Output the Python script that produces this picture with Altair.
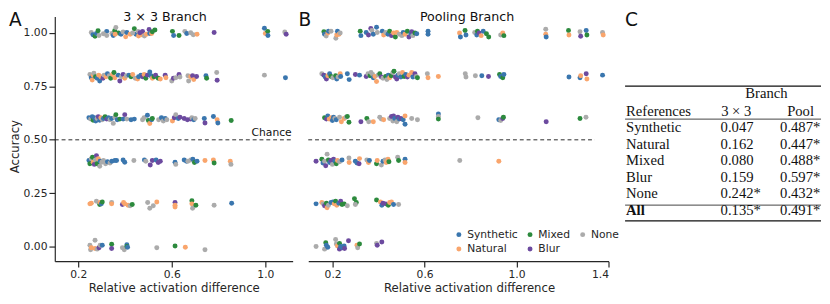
import altair as alt
import pandas as pd

# ---------------- data ----------------
CATS = {"S": "Synthetic", "N": "Natural", "M": "Mixed", "B": "Blur", "O": "None"}
LEGEND_ORDER = ["Synthetic", "Natural", "Mixed", "Blur", "None"]
COLORS = ["#3a76ae", "#f9a56c", "#2c8a3d", "#6c4a9f", "#ababab"]

# Panel A : 3x3 branch
A10_x = [0.256,0.263,0.272,0.278,0.285,0.289,0.322,0.322,0.344,0.350,0.356,0.361,0.372,0.383,0.392,0.403,0.408,0.422,0.440,0.447,0.456,0.458,0.472,0.475,0.483,0.492,0.503,0.506,0.514,0.528,0.603,0.608,0.631,0.656,0.664,0.681,0.692,0.708,0.781,0.996,1.000,1.010,1.011,1.083,1.089,0.308,0.358,0.433,0.464,0.517]
A10_y = [1.003,0.992,0.985,0.998,1.011,0.989,1.008,0.989,0.998,0.989,1.011,1.026,1.000,0.995,1.005,0.983,1.003,0.995,1.020,0.995,1.008,0.986,0.992,1.008,0.986,0.995,1.017,0.998,0.998,1.014,1.008,0.989,0.989,1.008,0.998,1.002,0.992,0.995,1.003,1.023,0.998,1.008,0.989,1.005,0.995,0.997,0.994,1.000,1.002,1.006]
A10_c = "OSMSMOSOOSMOMSONSNMSONNBONBSNMMSMOSOONBSNMSOBONOBM"

A08_x = [0.250,0.256,0.260,0.264,0.267,0.274,0.281,0.288,0.292,0.297,0.306,0.311,0.319,0.325,0.333,0.339,0.347,0.353,0.357,0.371,0.378,0.385,0.392,0.399,0.406,0.417,0.426,0.433,0.444,0.454,0.458,0.468,0.475,0.482,0.489,0.496,0.506,0.511,0.517,0.524,0.531,0.542,0.551,0.572,0.575,0.600,0.607,0.617,0.631,0.635,0.669,0.672,0.681,0.689,0.694,0.706,0.746,0.749,0.792,0.794,0.996,1.086]
A08_y = [0.806,0.791,0.780,0.803,0.812,0.795,0.788,0.803,0.776,0.795,0.788,0.803,0.795,0.809,0.800,0.788,0.806,0.815,0.791,0.803,0.776,0.795,0.806,0.788,0.800,0.803,0.795,0.806,0.788,0.785,0.795,0.803,0.795,0.806,0.788,0.803,0.818,0.800,0.788,0.795,0.803,0.788,0.785,0.803,0.791,0.776,0.788,0.791,0.806,0.794,0.800,0.776,0.795,0.800,0.782,0.797,0.800,0.788,0.815,0.779,0.803,0.791]
A08_c = "OSNNOMSNSNBONSOMNMNSBOBNOSMNONSSBNMBSSNMBMNBNOBOBOOONBNBSMOBOS"

A06_x = [0.246,0.253,0.260,0.264,0.269,0.275,0.281,0.286,0.292,0.297,0.303,0.308,0.315,0.322,0.329,0.336,0.343,0.350,0.357,0.361,0.367,0.378,0.392,0.399,0.408,0.426,0.440,0.475,0.482,0.496,0.500,0.506,0.514,0.517,0.544,0.556,0.564,0.572,0.579,0.603,0.611,0.617,0.628,0.635,0.653,0.667,0.681,0.686,0.694,0.700,0.739,0.742,0.778,0.794,0.797,0.854]
A06_y = [0.603,0.597,0.608,0.592,0.603,0.588,0.600,0.608,0.592,0.603,0.594,0.600,0.608,0.597,0.603,0.594,0.600,0.577,0.606,0.618,0.594,0.597,0.597,0.618,0.597,0.594,0.597,0.594,0.603,0.615,0.591,0.576,0.594,0.600,0.594,0.603,0.588,0.600,0.594,0.588,0.603,0.618,0.600,0.606,0.600,0.594,0.597,0.603,0.594,0.600,0.600,0.579,0.609,0.594,0.579,0.591]
A06_c = "SOSMSSOBSNOSMBSOSOOMSMSBOSSOOSMNSMOSOSONBOSBBBBOSOSBSNSM"

A04_x = [0.246,0.250,0.256,0.261,0.264,0.269,0.274,0.278,0.281,0.286,0.292,0.294,0.301,0.308,0.317,0.325,0.336,0.344,0.357,0.364,0.392,0.399,0.438,0.483,0.489,0.508,0.517,0.533,0.542,0.551,0.614,0.617,0.653,0.663,0.669,0.681,0.690,0.697,0.708,0.742,0.778,0.781,0.850,0.853]
A04_y = [0.403,0.388,0.411,0.418,0.395,0.385,0.406,0.426,0.388,0.411,0.376,0.400,0.395,0.403,0.388,0.397,0.391,0.400,0.403,0.403,0.406,0.395,0.403,0.406,0.400,0.382,0.403,0.406,0.394,0.400,0.395,0.385,0.406,0.400,0.400,0.406,0.409,0.394,0.400,0.403,0.406,0.391,0.400,0.385]
A04_c = "SMOMNBOBMNOSOOOSOSSSSSOSOBBSBBSOSSOOSMSNNMNO"

A02_x = [0.250,0.256,0.278,0.292,0.294,0.299,0.303,0.343,0.343,0.389,0.394,0.399,0.413,0.422,0.431,0.497,0.506,0.521,0.536,0.614,0.614,0.614,0.686,0.686,0.689,0.703,0.781,0.856]
A02_y = [0.200,0.203,0.212,0.197,0.206,0.200,0.209,0.206,0.200,0.197,0.206,0.200,0.194,0.191,0.197,0.206,0.179,0.191,0.209,0.206,0.194,0.185,0.215,0.200,0.179,0.194,0.194,0.203]
A02_c = "NNOMNSMONBNNNOMOOONBNNMNOMOS"

A00_x = [0.250,0.253,0.256,0.272,0.272,0.281,0.289,0.294,0.303,0.343,0.343,0.389,0.397,0.408,0.408,0.411,0.536,0.614,0.658,0.742]
A00_y = [0.006,-0.015,-0.006,0.030,-0.009,-0.012,-0.006,0.006,0.006,0.011,-0.009,-0.006,-0.015,0.009,0.000,-0.003,-0.006,0.003,-0.003,-0.015]
A00_c = "OONONOBOSMBOOSMSOMNO"

# Panel B : pooling branch
B10_x = [0.162,0.165,0.172,0.179,0.182,0.193,0.214,0.218,0.221,0.228,0.233,0.320,0.323,0.346,0.356,0.366,0.371,0.377,0.391,0.394,0.416,0.422,0.431,0.441,0.448,0.456,0.465,0.473,0.479,0.490,0.501,0.507,0.515,0.525,0.532,0.540,0.544,0.549,0.558,0.566,0.615,0.615,0.752,0.756,0.776,0.780,0.818,0.827,0.830,0.837,0.846,0.855,0.869,0.879,0.931,0.940,0.945,1.127,1.127,1.129,1.226,1.228,1.276,1.279,1.303,1.306,1.374,1.377]
B10_y = [1.006,0.994,0.986,1.000,1.009,1.009,0.976,0.991,1.009,0.994,1.000,1.009,0.988,1.003,0.991,1.021,1.012,0.994,1.027,1.003,1.009,0.991,1.003,0.994,1.009,0.988,1.000,0.982,1.003,0.994,0.988,1.003,0.994,1.009,0.982,0.997,1.006,0.988,1.000,0.997,1.009,0.994,1.000,0.982,1.012,0.991,1.003,0.991,1.009,1.000,0.988,1.009,0.997,0.982,0.991,1.000,0.988,1.018,0.994,0.982,1.012,0.991,1.006,0.985,1.012,0.991,1.003,0.991]
B10_c = "MSONSOONSNOMSSBBOSSOSNOSMBNMNOOSNMBSBOMSSSNSMSOSMBNSMMONMONSMNOBSMON"

B08_x = [0.153,0.162,0.168,0.173,0.179,0.187,0.193,0.201,0.213,0.218,0.224,0.233,0.235,0.264,0.272,0.299,0.317,0.346,0.354,0.363,0.367,0.374,0.377,0.384,0.391,0.398,0.405,0.412,0.419,0.431,0.436,0.442,0.448,0.455,0.462,0.467,0.473,0.479,0.484,0.490,0.497,0.504,0.511,0.518,0.525,0.532,0.544,0.549,0.558,0.564,0.569,0.612,0.615,0.660,0.777,0.780,0.821,0.849,0.878,0.926,0.931,0.940,0.945,1.228,1.276,1.279,1.303,1.306,1.374]
B08_y = [0.809,0.803,0.794,0.785,0.800,0.809,0.797,0.791,0.800,0.785,0.794,0.809,0.797,0.809,0.782,0.806,0.803,0.797,0.809,0.800,0.815,0.806,0.791,0.797,0.773,0.803,0.809,0.794,0.788,0.797,0.782,0.803,0.791,0.800,0.815,0.821,0.794,0.785,0.803,0.809,0.794,0.815,0.797,0.806,0.794,0.803,0.815,0.794,0.809,0.797,0.791,0.809,0.791,0.797,0.809,0.794,0.800,0.800,0.797,0.806,0.797,0.791,0.806,0.794,0.791,0.800,0.809,0.785,0.803]
B08_c = "OBSBNSMOMSONSSSBSBOMOOSNNOMBOMOSNMOMBBSOSNMSBNNSBOMONNOOOSBMSMSSSNBNS"

B06_x = [0.165,0.173,0.179,0.185,0.193,0.199,0.204,0.210,0.216,0.230,0.238,0.250,0.258,0.264,0.271,0.323,0.349,0.357,0.377,0.405,0.412,0.422,0.448,0.456,0.462,0.465,0.470,0.479,0.484,0.490,0.497,0.507,0.515,0.515,0.544,0.569,0.660,0.660,0.660,0.832,0.923,0.931,0.940,0.943,1.129,1.276,1.302]
B06_y = [0.603,0.597,0.612,0.597,0.603,0.591,0.606,0.600,0.594,0.606,0.585,0.600,0.606,0.609,0.582,0.585,0.600,0.585,0.585,0.606,0.597,0.594,0.600,0.609,0.588,0.612,0.600,0.585,0.606,0.597,0.600,0.594,0.612,0.573,0.600,0.594,0.621,0.609,0.597,0.603,0.594,0.591,0.600,0.606,0.585,0.600,0.606]
B06_c = "MBSNNSSOSONNOMMBMONOONOBOBSOBSBSNSOOSOMOSOBMBMO"

B04_x = [0.128,0.153,0.158,0.165,0.170,0.176,0.182,0.187,0.193,0.199,0.204,0.210,0.216,0.221,0.230,0.241,0.271,0.272,0.299,0.306,0.315,0.317,0.349,0.356,0.360,0.391,0.394,0.412,0.419,0.428,0.433,0.441,0.445,0.483,0.487,0.515,0.515,0.753,0.923]
B04_y = [0.400,0.409,0.391,0.400,0.379,0.433,0.406,0.394,0.403,0.385,0.409,0.400,0.388,0.403,0.397,0.406,0.415,0.394,0.400,0.391,0.388,0.412,0.406,0.394,0.403,0.388,0.403,0.382,0.400,0.406,0.394,0.409,0.397,0.418,0.403,0.409,0.394,0.403,0.400]
B04_c = "BMSOBOMSBOBSMNOSONSSBNONSMNOSONNMOMSNON"

B02_x = [0.128,0.153,0.159,0.165,0.173,0.176,0.182,0.193,0.201,0.207,0.213,0.218,0.227,0.235,0.241,0.250,0.264,0.295,0.303,0.299,0.391,0.408,0.414,0.419,0.431,0.442,0.448,0.456,0.465,0.487]
B02_y = [0.200,0.206,0.200,0.191,0.203,0.182,0.194,0.206,0.209,0.200,0.212,0.194,0.203,0.212,0.197,0.200,0.191,0.224,0.206,0.197,0.218,0.209,0.194,0.203,0.200,0.194,0.206,0.209,0.197,0.197]
B02_c = "SNOBMNOSSNMNSBMMOMMOMNSBBMNNSO"

B00_x = [0.128,0.165,0.170,0.173,0.179,0.213,0.216,0.221,0.230,0.230,0.235,0.244,0.250,0.252,0.269,0.306,0.309,0.317,0.391,0.394,0.414]
B00_y = [0.000,-0.012,0.018,0.006,-0.003,0.033,0.012,0.003,0.015,-0.012,0.000,-0.006,0.003,-0.009,0.027,0.006,-0.006,0.012,0.015,0.006,0.021]
B00_c = "OOMSSOONMBSSSBBNOMOBB"

# Table C
TBL_NAMES = ["Synthetic", "Natural", "Mixed", "Blur", "None"]
TBL_33 = ["0.047", "0.162", "0.080", "0.159", "0.242*"]
TBL_POOL = ["0.487*", "0.447*", "0.488*", "0.597*", "0.432*"]
TBL_ALL = ["All", "0.135*", "0.491*"]


def frame(rows):
    recs = []
    for xs, ys, cs in rows:
        for x, y, c in zip(xs, ys, cs):
            recs.append({"x": x, "y": y, "ref": CATS[c]})
    return pd.DataFrame(recs)


dfA = frame([(A10_x, A10_y, A10_c), (A08_x, A08_y, A08_c), (A06_x, A06_y, A06_c),
             (A04_x, A04_y, A04_c), (A02_x, A02_y, A02_c), (A00_x, A00_y, A00_c)])
dfB = frame([(B10_x, B10_y, B10_c), (B08_x, B08_y, B08_c), (B06_x, B06_y, B06_c),
             (B04_x, B04_y, B04_c), (B02_x, B02_y, B02_c), (B00_x, B00_y, B00_c)])

FONT = "DejaVu Sans"
INK = "#262626"
axis_common = dict(domainColor=INK, domainWidth=1.2, tickColor=INK, tickWidth=1.2, tickSize=6,
                   labelFont=FONT, labelFontSize=11, labelColor=INK, labelPadding=2,
                   titleFont=FONT, titleFontSize=12, titleFontWeight="normal", titleColor=INK, grid=False)

color_scale = alt.Scale(domain=LEGEND_ORDER, range=COLORS)
Y_DOM = [-0.0685, 1.0776]
y_scale = alt.Scale(domain=Y_DOM, nice=False, zero=False)

W_A, W_B, W_T, H = 244, 308, 201, 251
XA_DOM = [0.1, 1.1167]
XB_DOM = [0.094, 1.4]

# ---------------- Panel A ----------------
xA = alt.X("x:Q", scale=alt.Scale(domain=XA_DOM, nice=False, zero=False),
           axis=alt.Axis(values=[0.2, 0.6, 1.0], format=".1f", title="Relative activation difference",
                         titlePadding=3, **axis_common))
yA = alt.Y("y:Q", scale=y_scale,
           axis=alt.Axis(values=[0, 0.25, 0.5, 0.75, 1.0], format=".2f", title="Accuracy",
                         titlePadding=2, titleY=133, **axis_common))


def note(txt, x, y, size, baseline, xenc, yenc, dx=0, dy=0, align="left"):
    df = pd.DataFrame({"x": [x], "y": [y], "t": [txt]})
    return alt.Chart(df).mark_text(
        font=FONT, fontSize=size, align=align, baseline=baseline, dx=dx, dy=dy, color="#111"
    ).encode(x=xenc, y=yenc, text="t:N")


ptsA = alt.Chart(dfA).mark_circle(size=26, opacity=1).encode(
    x=xA, y=yA, color=alt.Color("ref:N", scale=color_scale, legend=None))
chanceA = alt.Chart(pd.DataFrame({"x": [XA_DOM[0]], "x2": [XA_DOM[1]], "y": [0.5]})).mark_rule(
    strokeDash=[4, 3], color=INK, strokeWidth=1).encode(x=xA, x2="x2:Q", y=yA)

panelA = alt.layer(
    chanceA, ptsA,
    note("Chance", 1.1125, 0.5, 11, "bottom", xA, yA, dy=-2, align="right"),
    note("3 × 3 Branch", 0.571, Y_DOM[1], 13, "middle", xA, yA, dy=1, align="center"),
    note("A", XA_DOM[0], Y_DOM[1], 19, "top", xA, yA, dx=-47, dy=-5),
).properties(width=W_A, height=H)

# ---------------- Panel B ----------------
xB = alt.X("x:Q", scale=alt.Scale(domain=XB_DOM, nice=False, zero=False),
           axis=alt.Axis(values=[0.2, 0.6, 1.0, 1.4], format=".1f", title="Relative activation difference",
                         titlePadding=3, titleX=165, **axis_common))
yB = alt.Y("y:Q", scale=y_scale, axis=None)

ptsB = alt.Chart(dfB).mark_circle(size=26, opacity=1).encode(
    x=xB, y=yB,
    color=alt.Color("ref:N", scale=color_scale,
                    legend=alt.Legend(title=None, orient="none", legendX=149, legendY=218, columns=3,
                                      labelFont=FONT, labelFontSize=11, labelColor=INK,
                                      symbolSize=26, labelOffset=3, columnPadding=7, rowPadding=3)))
chanceB = alt.Chart(pd.DataFrame({"x": [XB_DOM[0]], "x2": [1.341], "y": [0.5]})).mark_rule(
    strokeDash=[4, 3], color=INK, strokeWidth=1).encode(x=xB, x2="x2:Q", y=yB)

panelB = alt.layer(
    chanceB, ptsB,
    note("Pooling Branch", 0.785, Y_DOM[1], 13, "middle", xB, yB, dy=1, align="center"),
    note("\u00a0\u00a0B", XB_DOM[0], Y_DOM[1], 19, "top", xB, yB, dx=-10, dy=-5),
).properties(width=W_B, height=H)

# ---------------- Table C ----------------
R_DOM = [-6.728, 8.124]
xT = alt.X("tx:Q", scale=alt.Scale(domain=[0, W_T], nice=False, zero=False), axis=None)
yT = alt.Y("r:Q", scale=alt.Scale(domain=R_DOM, reverse=True, nice=False, zero=False), axis=None)
SERIF = "Liberation Serif"


def ttext(texts, rows, align, x, weight="normal"):
    df = pd.DataFrame({"t": texts, "r": rows, "tx": [x] * len(texts)})
    return alt.Chart(df).mark_text(
        align=align, baseline="middle", font=SERIF, fontSize=15, fontWeight=weight, color="#111"
    ).encode(x=xT, y=yT, text="t:N")


def trule(rows, width):
    df = pd.DataFrame({"r": rows, "tx": [0] * len(rows), "tx2": [W_T] * len(rows)})
    return alt.Chart(df).mark_rule(color="#111", strokeWidth=width).encode(x=xT, x2="tx2:Q", y=yT)


rows5 = [0, 1, 2, 3, 4]
labelC = alt.Chart(pd.DataFrame({"tx": [0], "r": [R_DOM[0]], "t": ["C"]})).mark_text(
    font=FONT, fontSize=19, align="left", baseline="top", dy=-5, color="#111"
).encode(x=xT, y=yT, text="t:N")

panelT = alt.layer(
    trule([-2.5, 5.68], 1.3),
    trule([-0.5, 4.72], 0.8),
    ttext(["Branch"], [-2.05], "center", 145),
    ttext(["References"], [-1], "left", 1),
    ttext(["3 × 3"], [-1], "center", 114),
    ttext(["Pool"], [-1], "center", 180),
    ttext(TBL_NAMES, rows5, "left", 1),
    ttext(TBL_33, rows5, "left", 98),
    ttext(TBL_POOL, rows5, "left", 159),
    ttext([TBL_ALL[0]], [5], "left", 1, weight="bold"),
    ttext([TBL_ALL[1]], [5], "left", 98),
    ttext([TBL_ALL[2]], [5], "left", 159),
    labelC,
).properties(width=W_T, height=H)

chart = alt.hconcat(panelA, panelB, panelT, spacing=5, padding=0).resolve_scale(
    color="independent").resolve_legend(color="independent").configure_view(stroke=None)

chart.save("out.html", embed_options={"renderer": "svg", "actions": False})
